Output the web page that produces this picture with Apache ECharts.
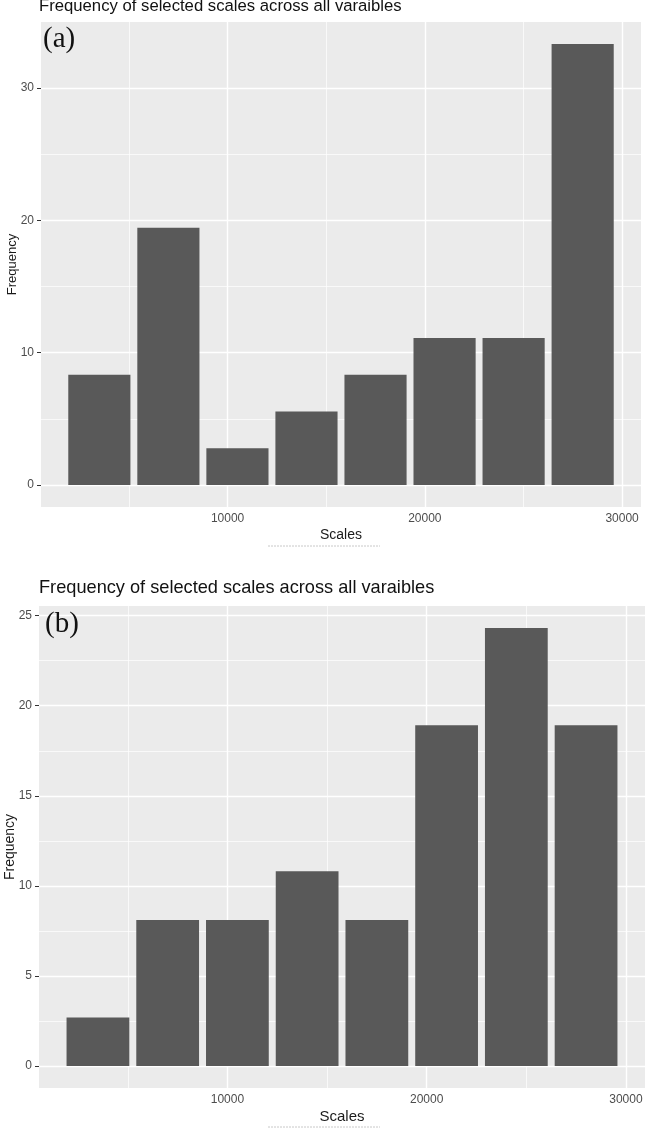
<!DOCTYPE html>
<html>
<head>
<meta charset="utf-8">
<script src="https://cdn.jsdelivr.net/npm/echarts@6/dist/echarts.min.js"></script>
<style>
  html, body { margin: 0; padding: 0; background: #ffffff; }
  #chart { width: 645px; height: 1129px; }
</style>
</head>
<body>
<div id="chart"></div>
<script>
// ---- data ----
const chartTitle = 'Frequency of selected scales across all varaibles';
const panelLabels = ['(a)', '(b)'];
const xTitle = 'Scales';
const yTitle = 'Frequency';

const scalesA = [3500, 7000, 10500, 14000, 17500, 21000, 24500, 28000];
const freqA = [8.33, 19.44, 2.78, 5.56, 8.33, 11.11, 11.11, 33.33];

const scalesB = [3500, 7000, 10500, 14000, 17500, 21000, 24500, 28000];
const freqB = [2.70, 8.11, 8.11, 10.81, 8.11, 18.92, 24.32, 18.92];

const xTicks = [10000, 20000, 30000];
const xMinorTicks = [5000, 15000, 25000];
const yTicksA = [0, 10, 20, 30];
const yMinorA = [5, 15, 25];
const yTicksB = [0, 5, 10, 15, 20, 25];
const yMinorB = [2.5, 7.5, 12.5, 17.5, 22.5];

// ---- helpers ----
const BAR_FRAC = 0.9;
function barWidthOf(xs) { return BAR_FRAC * (xs[1] - xs[0]); }
function expand(lo, hi) { const r = hi - lo; return [lo - 0.05 * r, hi + 0.05 * r]; }

const bwA = barWidthOf(scalesA), bwB = barWidthOf(scalesB);
const xExtA = expand(Math.min(...scalesA) - bwA / 2, Math.max(...scalesA) + bwA / 2);
const xExtB = expand(Math.min(...scalesB) - bwB / 2, Math.max(...scalesB) + bwB / 2);
const yExtA = expand(0, Math.max(...freqA));
const yExtB = expand(0, Math.max(...freqB));

const FONT = '"Liberation Sans", Arial, sans-serif';
const SERIF = '"Liberation Serif", "Times New Roman", serif';
const TICK_COL = '#4d4d4d';
const plain = v => String(v);

function xAxisCfg(gi, ext, nameSize) {
  return {
    type: 'value', gridIndex: gi, min: ext[0], max: ext[1],
    name: xTitle, nameLocation: 'middle', nameGap: 21, nameMoveOverlap: false,
    nameTextStyle: { fontFamily: FONT, fontSize: nameSize, color: '#1a1a1a' },
    axisLine: { show: false },
    axisTick: { show: true, length: 3, customValues: xTicks, lineStyle: { color: '#333333', width: 1 } },
    axisLabel: { customValues: xTicks, formatter: plain, margin: 6, fontFamily: FONT, fontSize: 12, color: TICK_COL },
    splitLine: { show: false }
  };
}
function yAxisCfg(gi, ext, ticks, nameSize) {
  return {
    type: 'value', gridIndex: gi, min: ext[0], max: ext[1],
    name: yTitle, nameLocation: 'middle', nameGap: 22, nameRotate: 90, nameMoveOverlap: false,
    nameTextStyle: { fontFamily: FONT, fontSize: nameSize, color: '#1a1a1a' },
    axisLine: { show: false },
    axisTick: { show: true, length: 4, customValues: ticks, lineStyle: { color: '#333333', width: 1 } },
    axisLabel: { customValues: ticks, formatter: plain, margin: 7, fontFamily: FONT, fontSize: 12, color: TICK_COL },
    splitLine: { show: false }
  };
}
function gridLines(gi, xMaj, xMin, yMaj, yMin) {
  const d = [];
  xMin.forEach(v => d.push({ xAxis: v, lineStyle: { color: '#ffffff', width: 0.7, type: 'solid' } }));
  yMin.forEach(v => d.push({ yAxis: v, lineStyle: { color: '#ffffff', width: 0.7, type: 'solid' } }));
  xMaj.forEach(v => d.push({ xAxis: v, lineStyle: { color: '#ffffff', width: 1.4, type: 'solid' } }));
  yMaj.forEach(v => d.push({ yAxis: v, lineStyle: { color: '#ffffff', width: 1.4, type: 'solid' } }));
  return {
    type: 'line', xAxisIndex: gi, yAxisIndex: gi, data: [], z: 1, silent: true,
    markLine: { z: 1, silent: true, symbol: ['none', 'none'], label: { show: false }, animation: false, data: d }
  };
}
function barSeries(gi, xs, ys, bw) {
  return {
    type: 'custom', xAxisIndex: gi, yAxisIndex: gi, z: 10, silent: true,
    data: xs.map((x, i) => [x, ys[i]]),
    encode: { x: 0, y: 1 },
    renderItem: function (params, api) {
      const x = api.value(0), y = api.value(1);
      const p0 = api.coord([x - bw / 2, y]);
      const p1 = api.coord([x + bw / 2, 0]);
      return {
        type: 'rect',
        shape: { x: p0[0], y: p0[1], width: p1[0] - p0[0], height: p1[1] - p0[1] },
        style: { fill: '#595959' }
      };
    }
  };
}

const chart = echarts.init(document.getElementById('chart'), null, { renderer: 'canvas' });
chart.setOption({
  animation: false,
  backgroundColor: '#ffffff',
  title: [
    { text: chartTitle, left: 39, top: -2, padding: 0,
      textStyle: { fontFamily: FONT, fontSize: 16.7, fontWeight: 'normal', color: '#111111' } },
    { text: chartTitle, left: 39, top: 579, padding: 0,
      textStyle: { fontFamily: FONT, fontSize: 18.2, fontWeight: 'normal', color: '#111111' } },
    { text: panelLabels[0], left: 43, top: 25, padding: 0,
      textStyle: { fontFamily: SERIF, fontSize: 29, fontWeight: 'normal', color: '#111111' } },
    { text: panelLabels[1], left: 45, top: 610, padding: 0,
      textStyle: { fontFamily: SERIF, fontSize: 29, fontWeight: 'normal', color: '#111111' } }
  ],
  grid: [
    { left: 41, top: 22, width: 600, height: 485, show: true, backgroundColor: '#ebebeb', borderWidth: 0,
      containLabel: false, outerBoundsMode: 'none' },
    { left: 39, top: 606, width: 606, height: 482, show: true, backgroundColor: '#ebebeb', borderWidth: 0,
      containLabel: false, outerBoundsMode: 'none' }
  ],
  xAxis: [xAxisCfg(0, xExtA, 14), xAxisCfg(1, xExtB, 15)],
  yAxis: [yAxisCfg(0, yExtA, yTicksA, 13), yAxisCfg(1, yExtB, yTicksB, 14)],
  series: [
    gridLines(0, xTicks, xMinorTicks, yTicksA, yMinorA),
    gridLines(1, xTicks, xMinorTicks, yTicksB, yMinorB),
    barSeries(0, scalesA, freqA, bwA),
    barSeries(1, scalesB, freqB, bwB)
  ],
  graphic: [
    { type: 'line', shape: { x1: 268, y1: 546, x2: 380, y2: 546 }, style: { stroke: '#c8c8c8', lineWidth: 1, lineDash: [2, 1] }, silent: true },
    { type: 'line', shape: { x1: 268, y1: 1127, x2: 380, y2: 1127 }, style: { stroke: '#c8c8c8', lineWidth: 1, lineDash: [2, 1] }, silent: true }
  ]
});
</script>
</body>
</html>
